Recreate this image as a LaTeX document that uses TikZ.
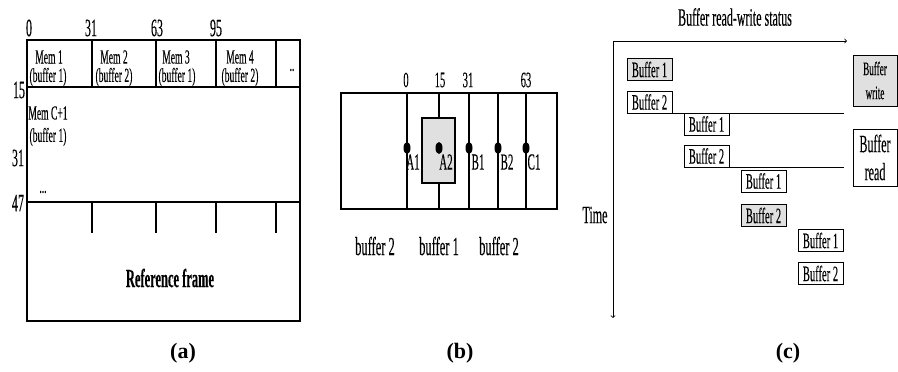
\documentclass[tikz,border=0pt]{standalone}
\usepackage{fontspec}
\setmainfont{Liberation Serif}
\newfontfamily\cn[FakeStretch=0.48,FakeBold=0.2]{Liberation Serif}
\usetikzlibrary{shadows,shapes.geometric}
\definecolor{boxgray}{HTML}{E0E0E0}
\begin{document}
\begin{tikzpicture}[x=1pt,y=-1pt,line width=1.3pt,
  lbl/.style={inner sep=0pt,font=\cn\fontsize{#1}{#1}\selectfont},
  lbl/.default=20,
  subcap/.style={inner sep=0pt,font=\fontsize{22}{22}\selectfont\bfseries},
  bufbox/.style={draw,line width=0.8pt,fill=white,minimum width=45pt,minimum height=22pt,inner sep=0pt,
    font=\cn\fontsize{22}{22}\selectfont,drop shadow={shadow xshift=0.8pt,shadow yshift=-0.8pt,opacity=1,fill=black!70}},
  grayfill/.style={fill=boxgray},
  sidebox/.style={draw,line width=0.8pt,fill=white,minimum width=44pt,inner sep=0pt,align=center,
    drop shadow={shadow xshift=0.8pt,shadow yshift=-0.8pt,opacity=1,fill=black!70}},
  dotmark/.style={ellipse,fill=black,inner sep=0pt,minimum width=7pt,minimum height=12pt,draw=none}
]
\useasboundingbox (0,0) rectangle (898,372);

%%%%%%%%%%%%%%%% (a)
\draw (27,40) rectangle (300,321);
\draw (27,87) -- (300,87);
\foreach \x in {92,156,216,276} \draw (\x,40) -- (\x,87);
\draw (27,202) -- (300,202);
\foreach \x in {92,156,216,276} \draw (\x,202) -- (\x,233);

\node[lbl=25] (a0) at (29,28) {0};
\node[lbl=25] (a31) at (91,28) {31};
\node[lbl=25] (a63) at (157,28) {63};
\node[lbl=25] (a95) at (216,28) {95};
\node[lbl=25] (l15) at (19,90) {15};
\node[lbl=25] (l31) at (18,158) {31};
\node[lbl=25] (l47) at (18,203) {47};

\node[lbl] (m1) at (49,57) {Mem 1};
\node[lbl] (b1) at (48,77) {(buffer 1)};
\node[lbl] (m2) at (114,57) {Mem 2};
\node[lbl] (b2) at (114,77) {(buffer 2)};
\node[lbl] (m3) at (176,57) {Mem 3};
\node[lbl] (b3) at (177,77) {(buffer 1)};
\node[lbl] (m4) at (240,57) {Mem 4};
\node[lbl] (b4) at (240,77) {(buffer 2)};
\node[lbl] (dd) at (292,70) {..};
\node[lbl] (mc) at (48,113) {Mem C+1};
\node[lbl] (bc) at (48,137) {(buffer 1)};
\node[lbl] (ddd) at (43,192) {...};
\node[inner sep=0pt,font=\cn\fontsize{26}{26}\selectfont\bfseries] (ref) at (170,278) {Reference frame};
\node[subcap] (capa) at (183,353) {(a)};

%%%%%%%%%%%%%%%% (b)
\draw (341,93) rectangle (557,209);
\draw[fill=boxgray] (422,118) rectangle (455,183);
\draw (407,93) -- (407,209);
\draw (439,93) -- (439,118);
\draw (439,183) -- (439,209);
\foreach \x in {469,498,526} \draw (\x,93) -- (\x,209);
\node[dotmark] (dA1) at (407,148) {};
\node[dotmark] (dA2) at (439,148) {};
\node[dotmark] (dB1) at (469,148) {};
\node[dotmark] (dB2) at (498,148) {};
\node[dotmark] (dC1) at (526,148) {};
\node[lbl=23] (A1) at (413,162) {A1};
\node[lbl=23] (A2) at (446,162) {A2};
\node[lbl=23] (B1) at (478,162) {B1};
\node[lbl=23] (B2) at (507,162) {B2};
\node[lbl=23] (C1) at (534,162) {C1};
\node[lbl=22] (t0) at (406,80) {0};
\node[lbl=22] (t15) at (440,80) {15};
\node[lbl=22] (t31) at (468,80) {31};
\node[lbl=22] (t63) at (526,80) {63};
\node[lbl=26] (bb1) at (375,246) {buffer 2};
\node[lbl=26] (bb2) at (439,246) {buffer 1};
\node[lbl=26] (bb3) at (499,246) {buffer 2};
\node[subcap] (capb) at (460,353) {(b)};

%%%%%%%%%%%%%%%% (c)
\node[lbl=25] (title) at (735,17) {Buffer read-write status};
\coordinate (O) at (613,41);
\coordinate (xe) at (847,41);
\coordinate (ye) at (613,318);
\draw[line width=0.8pt,->] (O) -- (xe);
\draw[line width=0.8pt,->] (O) -- (ye);
\node[lbl=25] (time) at (595,215) {Time};

\node[bufbox,grayfill] (k1) at (649.5,69.5) {Buffer 1};
\node[bufbox] (k2) at (649.5,102) {Buffer 2};
\node[bufbox] (k3) at (706.5,124) {Buffer 1};
\node[bufbox] (k4) at (706.5,156) {Buffer 2};
\node[bufbox] (k5) at (763.5,181) {Buffer 1};
\node[bufbox,grayfill] (k6) at (763.5,215.5) {Buffer 2};
\node[bufbox] (k7) at (820.5,240.5) {Buffer 1};
\node[bufbox] (k8) at (820.5,273.5) {Buffer 2};
\coordinate (rx) at (844,0);
\draw[line width=0.8pt] (k2.south east) -- (k2.south east -| rx);
\draw[line width=0.8pt] (k4.south east) -- (k4.south east -| rx);

\node[sidebox,grayfill,minimum height=51pt,font=\cn\fontsize{19}{24}\selectfont] (bw) at (875,80.5) {Buffer\\write};
\node[sidebox,minimum height=57pt,font=\cn\fontsize{25}{28}\selectfont] (br) at (875,157.5) {Buffer\\read};
\node[subcap] (capc) at (788,353) {(c)};
\end{tikzpicture}
\end{document}
